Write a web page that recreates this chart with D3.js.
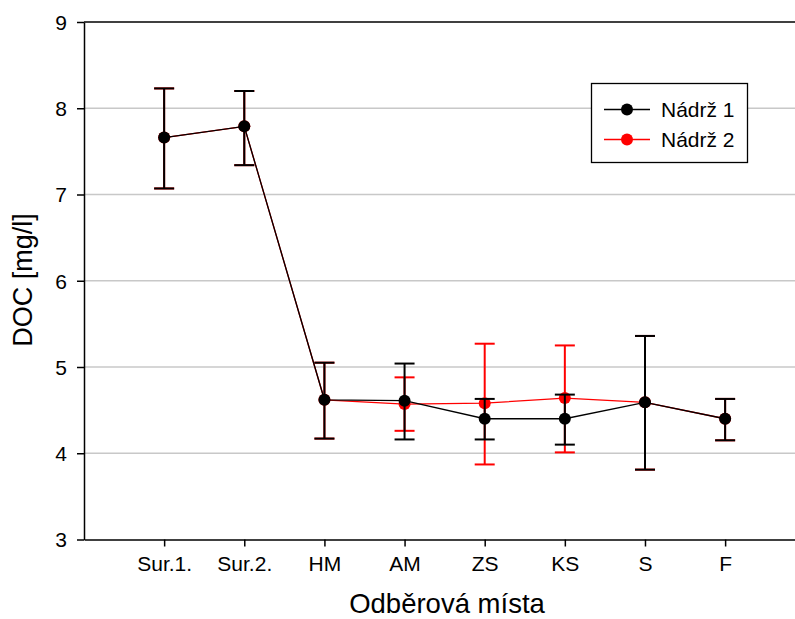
<!DOCTYPE html>
<html>
<head>
<meta charset="utf-8">
<script src="https://cdn.jsdelivr.net/npm/d3@7"></script>
<style>
  body { margin: 0; background: #fff; }
  svg { font-family: "Liberation Sans", Arial, sans-serif; }
</style>
</head>
<body>
<div id="vis"></div>
<script>
// sampling sites and DOC values [mg/l]
var categories = ["Sur.1.", "Sur.2.", "HM", "AM", "ZS", "KS", "S", "F"];

var tank1Mean  = [7.66, 7.79, 4.62, 4.61, 4.40, 4.40, 4.59, 4.40];
var tank1Upper = [8.23, 8.20, 5.05, 5.04, 4.63, 4.68, 5.36, 4.63];
var tank1Lower = [7.07, 7.34, 4.17, 4.16, 4.16, 4.10, 3.81, 4.15];

var tank2Mean  = [7.66, 7.79, 4.62, 4.57, 4.58, 4.64, 4.59, 4.40];
var tank2Upper = [8.23, 8.20, 5.05, 4.88, 5.27, 5.25, 5.36, 4.63];
var tank2Lower = [7.07, 7.34, 4.17, 4.26, 3.87, 4.01, 3.81, 4.15];

var yTicks = [3, 4, 5, 6, 7, 8, 9];
var gridValues = [4, 5, 6, 7, 8];

var seriesNames = ["Nádrž 1", "Nádrž 2"];
var seriesColors = ["#000000", "#ff0000"];

var width = 795;
var height = 619;
var margin = { top: 22, left: 84, bottom: 79.5 };

var step = 80.14;
var x = d3.scaleLinear()
	.domain([0, (width - margin.left) / step])
	.range([margin.left, width]);

var y = d3.scaleLinear()
	.domain([3, 9])
	.range([height - margin.bottom, margin.top]);

var svg = d3.select("#vis").append("svg")
	.attr("width", width)
	.attr("height", height);

// grid
svg.append("g")
	.selectAll("line")
	.data(gridValues)
	.enter().append("line")
	.attr("x1", margin.left)
	.attr("x2", width)
	.attr("y1", function (d) { return y(d); })
	.attr("y2", function (d) { return y(d); })
	.attr("stroke", "#c8c8c8")
	.attr("stroke-width", 1.5);

// top frame line
svg.append("line")
	.attr("x1", margin.left).attr("x2", width)
	.attr("y1", y(9)).attr("y2", y(9))
	.attr("stroke", "#000").attr("stroke-width", 1.5);

// axes
var yAxis = svg.append("g")
	.attr("transform", "translate(" + margin.left + ",0)")
	.call(d3.axisLeft(y).tickValues(yTicks).tickFormat(d3.format("d"))
		.tickSize(7).tickPadding(10).tickSizeOuter(0));

var xAxis = svg.append("g")
	.attr("transform", "translate(0," + y(3) + ")")
	.call(d3.axisBottom(x)
		.tickValues(d3.range(1, categories.length + 1))
		.tickFormat(function (d) { return categories[d - 1]; })
		.tickSize(7).tickPadding(10).tickSizeOuter(0));

[yAxis, xAxis].forEach(function (a) {
	a.select(".domain").attr("stroke", "#000").attr("stroke-width", 1.5);
	a.selectAll(".tick line").attr("stroke", "#000").attr("stroke-width", 1.5);
	a.selectAll(".tick text")
		.attr("fill", "#000")
		.style("font-size", "21px")
		.style("font-family", "'Liberation Sans', Arial, sans-serif");
});
yAxis.selectAll(".tick text").attr("dy", "0.35em");

// axis titles
svg.append("text")
	.attr("transform", "translate(32,280) rotate(-90)")
	.attr("text-anchor", "middle")
	.style("font-size", "27px")
	.text("DOC [mg/l]");

svg.append("text")
	.attr("x", 447)
	.attr("y", 613)
	.attr("text-anchor", "middle")
	.style("font-size", "27.5px")
	.text("Odběrová místa");

// series, red first so black lies on top
var series = [
	{ mean: tank2Mean, upper: tank2Upper, lower: tank2Lower, color: seriesColors[1] },
	{ mean: tank1Mean, upper: tank1Upper, lower: tank1Lower, color: seriesColors[0] }
];

var line = d3.line()
	.x(function (d, i) { return x(i + 1); })
	.y(function (d) { return y(d); });

series.forEach(function (s) {
	var g = svg.append("g");
	var capW = 10;

	g.append("path")
		.datum(s.mean)
		.attr("d", line)
		.attr("fill", "none")
		.attr("stroke", s.color)
		.attr("stroke-width", 1.3);

	var bars = g.selectAll(".err")
		.data(s.mean.map(function (m, i) { return { i: i, up: s.upper[i], lo: s.lower[i] }; }))
		.enter().append("g")
		.attr("stroke", s.color)
		.attr("stroke-width", 2);

	bars.append("line")
		.attr("x1", function (d) { return x(d.i + 1); })
		.attr("x2", function (d) { return x(d.i + 1); })
		.attr("y1", function (d) { return y(d.up); })
		.attr("y2", function (d) { return y(d.lo); });
	bars.append("line")
		.attr("x1", function (d) { return x(d.i + 1) - capW; })
		.attr("x2", function (d) { return x(d.i + 1) + capW; })
		.attr("y1", function (d) { return y(d.up); })
		.attr("y2", function (d) { return y(d.up); });
	bars.append("line")
		.attr("x1", function (d) { return x(d.i + 1) - capW; })
		.attr("x2", function (d) { return x(d.i + 1) + capW; })
		.attr("y1", function (d) { return y(d.lo); })
		.attr("y2", function (d) { return y(d.lo); });

	g.selectAll("circle")
		.data(s.mean)
		.enter().append("circle")
		.attr("cx", function (d, i) { return x(i + 1); })
		.attr("cy", function (d) { return y(d); })
		.attr("r", 6)
		.attr("fill", s.color);
});

// legend
var legend = svg.append("g");
legend.append("rect")
	.attr("x", 591.5).attr("y", 83.5)
	.attr("width", 156).attr("height", 79)
	.attr("fill", "#fff")
	.attr("stroke", "#000")
	.attr("stroke-width", 1.3);

seriesNames.forEach(function (name, i) {
	var ly = 109.5 + i * 30;
	legend.append("line")
		.attr("x1", 604).attr("x2", 650)
		.attr("y1", ly).attr("y2", ly)
		.attr("stroke", seriesColors[i])
		.attr("stroke-width", 1.3);
	legend.append("circle")
		.attr("cx", 627).attr("cy", ly)
		.attr("r", 6)
		.attr("fill", seriesColors[i]);
	legend.append("text")
		.attr("x", 661).attr("y", ly)
		.attr("dy", "0.35em")
		.style("font-size", "21px")
		.text(name);
});
</script>
</body>
</html>
